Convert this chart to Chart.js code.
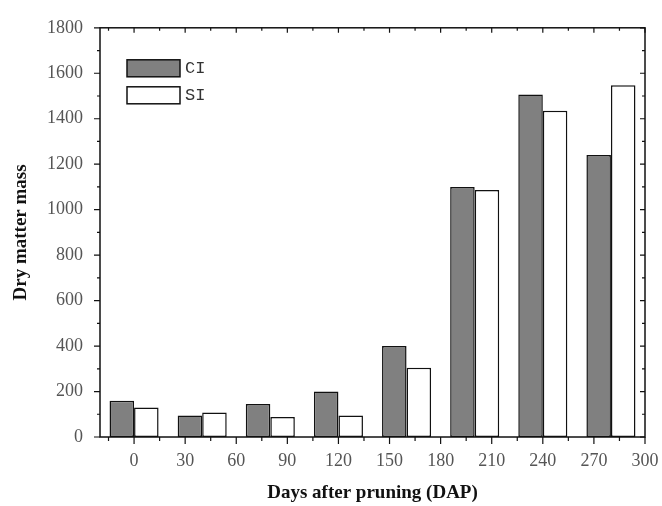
<!DOCTYPE html>
<html>
<head>
<meta charset="utf-8">
<script src="https://cdn.jsdelivr.net/npm/chart.js@4/dist/chart.umd.min.js"></script>
<style>
  html, body { margin: 0; padding: 0; background: #fff; }
  #wrap { width: 662px; height: 506px; }
</style>
</head>
<body>
<div id="wrap"><canvas id="chart" width="662" height="506"></canvas></div>
<script>
// grupos de barras (posição em dias no eixo)
const groups = ['0', '40', '80', '120', '160', '200', '240', '280'];
const ciValues = [160, 95, 145, 200, 400, 1100, 1507, 1240];
const siValues = [130, 108, 88, 95, 305, 1087, 1435, 1547];
const xTickLabels = [0, 30, 60, 90, 120, 150, 180, 210, 240, 270, 300];
const yTickLabels = [0, 200, 400, 600, 800, 1000, 1200, 1400, 1600, 1800];

const serif = "'Liberation Serif', 'DejaVu Serif', serif";

// moldura do gráfico com ticks maiores e menores
const framePlugin = {
    id: 'frame',
    afterDatasetsDraw(chart) {
        const { ctx, chartArea: a, scales } = chart;
        const y = scales.y, x = scales.x2;
        ctx.save();
        ctx.strokeStyle = '#111';
        ctx.lineWidth = 1.5;
        ctx.strokeRect(a.left, a.top, a.right - a.left, a.bottom - a.top);

        ctx.lineWidth = 1.2;
        const yt = y.ticks.map(t => t.value);
        const yStep = yt[1] - yt[0];
        for (let v = y.min; v <= y.max; v += yStep / 2) {
            const major = yt.includes(v);
            const py = y.getPixelForValue(v);
            ctx.beginPath();
            ctx.moveTo(a.left - (major ? 6 : 3), py);
            ctx.lineTo(a.left, py);
            ctx.moveTo(a.right, py);
            ctx.lineTo(a.right - (major ? 5 : 3), py);
            ctx.stroke();
        }
        const xt = x.ticks.map(t => t.value);
        const xStep = xt[1] - xt[0];
        for (let v = xt[0] - xStep / 2; v <= x.max; v += xStep / 2) {
            const major = xt.includes(v);
            const px = x.getPixelForValue(v);
            ctx.beginPath();
            ctx.moveTo(px, a.bottom);
            ctx.lineTo(px, a.bottom + (major ? 7 : 4));
            ctx.moveTo(px, a.top);
            ctx.lineTo(px, a.top + (major ? 5 : 3));
            ctx.stroke();
        }
        ctx.restore();
    }
};

// legenda dentro da área do gráfico
const legendPlugin = {
    id: 'innerLegend',
    afterDraw(chart) {
        const { ctx, chartArea: a } = chart;
        ctx.save();
        ctx.font = "17px 'Liberation Mono', 'DejaVu Sans Mono', monospace";
        ctx.textBaseline = 'middle';
        chart.data.datasets.forEach((ds, i) => {
            const bx = a.left + 27;
            const by = a.top + 32 + i * 27;
            ctx.fillStyle = ds.backgroundColor;
            ctx.fillRect(bx, by, 53, 17);
            ctx.strokeStyle = '#111';
            ctx.lineWidth = 1.5;
            ctx.strokeRect(bx, by, 53, 17);
            ctx.fillStyle = '#333';
            ctx.fillText(ds.label, bx + 58, by + 9);
        });
        ctx.restore();
    }
};

const ctx = document.getElementById('chart').getContext('2d');
new Chart(ctx, {
    type: 'bar',
    data: {
        labels: groups,
        datasets: [
            {
                label: 'CI',
                data: ciValues,
                backgroundColor: '#808080',
                borderColor: '#111',
                borderWidth: 1.5,
                borderSkipped: false,
                categoryPercentage: 0.72,
                barPercentage: 1
            },
            {
                label: 'SI',
                data: siValues,
                backgroundColor: '#ffffff',
                borderColor: '#111',
                borderWidth: 1.5,
                borderSkipped: false,
                categoryPercentage: 0.72,
                barPercentage: 1
            }
        ]
    },
    options: {
        responsive: false,
        animation: false,
        layout: { padding: { top: 24, right: 17, left: 0, bottom: 0 } },
        plugins: {
            legend: { display: false },
            tooltip: { enabled: false }
        },
        scales: {
            x: {
                display: false,
                offset: true
            },
            x2: {
                type: 'linear',
                position: 'bottom',
                offset: false,
                min: -20,
                max: 300,
                afterBuildTicks: (scale) => {
                    scale.ticks = xTickLabels.map(v => ({ value: v }));
                },
                afterFit: (scale) => {
                    scale.height = 69;
                    scale.paddingLeft = 0;
                    scale.paddingRight = 0;
                },
                grid: { display: false, drawTicks: false, offset: false },
                border: { display: false },
                ticks: {
                    padding: 13,
                    maxRotation: 0,
                    autoSkip: false,
                    color: '#555',
                    font: { family: serif, size: 18 },
                    callback: (v) => String(v)
                },
                title: {
                    display: true,
                    text: 'Days after pruning (DAP)',
                    color: '#111',
                    font: { family: serif, size: 19, weight: 'bold' },
                    padding: { top: 0, bottom: 2 }
                }
            },
            y: {
                min: 0,
                max: 1800,
                afterBuildTicks: (scale) => {
                    scale.ticks = yTickLabels.map(v => ({ value: v }));
                },
                afterFit: (scale) => { scale.width = 100; },
                grid: { display: false, drawTicks: false },
                border: { display: false },
                ticks: {
                    padding: 17,
                    color: '#555',
                    font: { family: serif, size: 18 },
                    callback: (v) => String(v)
                },
                title: {
                    display: true,
                    text: 'Dry matter mass',
                    color: '#111',
                    font: { family: serif, size: 19, weight: 'bold' },
                    padding: { top: 10, bottom: 0 }
                }
            }
        }
    },
    plugins: [framePlugin, legendPlugin]
});
</script>
</body>
</html>
